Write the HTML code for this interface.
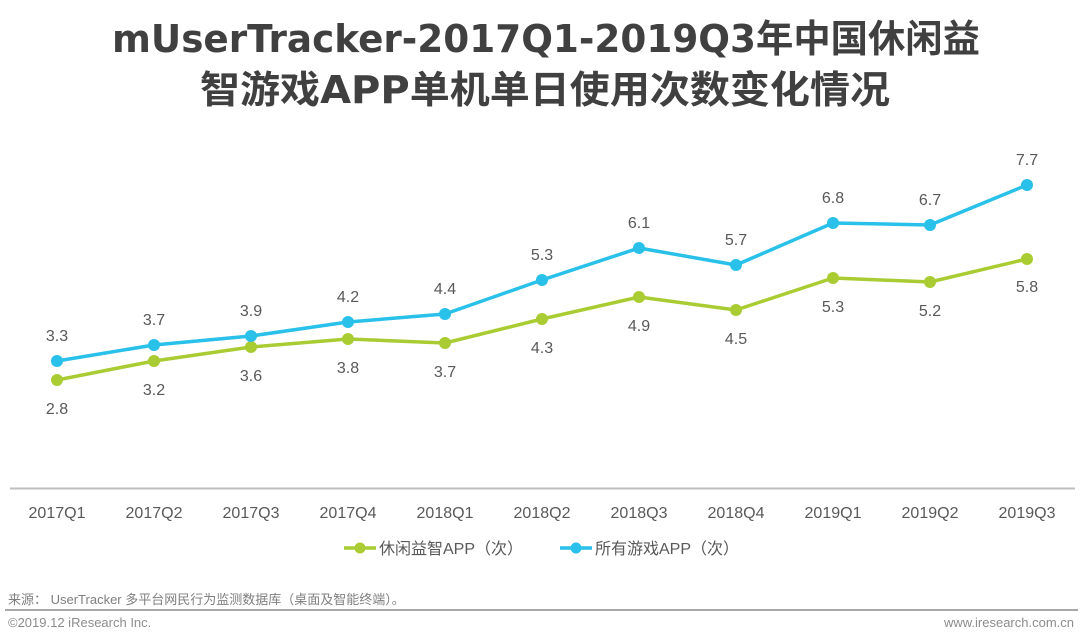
<!DOCTYPE html>
<html><head><meta charset="utf-8"><style>
html,body{margin:0;padding:0;background:#fff;}
svg{display:block;}
</style></head><body>
<svg width="1080" height="642" viewBox="0 0 1080 642" xmlns="http://www.w3.org/2000/svg" font-family="'Liberation Sans','Noto Sans CJK SC',sans-serif">
<text x="546" y="52" text-anchor="middle" font-size="38" font-weight="bold" fill="#404040" font-family="'DejaVu Sans','Noto Sans CJK SC',sans-serif" textLength="868" lengthAdjust="spacingAndGlyphs">mUserTracker-2017Q1-2019Q3年中国休闲益</text>
<text x="545" y="103" text-anchor="middle" font-size="38" font-weight="bold" fill="#404040" font-family="'DejaVu Sans','Noto Sans CJK SC',sans-serif" textLength="690" lengthAdjust="spacingAndGlyphs">智游戏APP单机单日使用次数变化情况</text>
<line x1="10" y1="488.5" x2="1075" y2="488.5" stroke="#bfbfbf" stroke-width="2"/>
<g font-size="16" fill="#595959" text-anchor="middle">
<text x="57" y="518">2017Q1</text><text x="154" y="518">2017Q2</text><text x="251" y="518">2017Q3</text><text x="348" y="518">2017Q4</text><text x="445" y="518">2018Q1</text><text x="542" y="518">2018Q2</text><text x="639" y="518">2018Q3</text><text x="736" y="518">2018Q4</text><text x="833" y="518">2019Q1</text><text x="930" y="518">2019Q2</text><text x="1027" y="518">2019Q3</text>
</g>
<polyline fill="none" stroke="#a9cc33" stroke-width="3.5" stroke-linejoin="round" points="57,380 154,361 251,347 348,339 445,343 542,319 639,297 736,310 833,278 930,282 1027,259"/>
<polyline fill="none" stroke="#29c0ea" stroke-width="3.5" stroke-linejoin="round" points="57,361 154,345 251,336 348,322 445,314 542,280 639,248 736,265 833,223 930,225 1027,185"/>
<g fill="#a9cc33"><circle cx="57" cy="380" r="6"/><circle cx="154" cy="361" r="6"/><circle cx="251" cy="347" r="6"/><circle cx="348" cy="339" r="6"/><circle cx="445" cy="343" r="6"/><circle cx="542" cy="319" r="6"/><circle cx="639" cy="297" r="6"/><circle cx="736" cy="310" r="6"/><circle cx="833" cy="278" r="6"/><circle cx="930" cy="282" r="6"/><circle cx="1027" cy="259" r="6"/></g>
<g fill="#29c0ea"><circle cx="57" cy="361" r="6"/><circle cx="154" cy="345" r="6"/><circle cx="251" cy="336" r="6"/><circle cx="348" cy="322" r="6"/><circle cx="445" cy="314" r="6"/><circle cx="542" cy="280" r="6"/><circle cx="639" cy="248" r="6"/><circle cx="736" cy="265" r="6"/><circle cx="833" cy="223" r="6"/><circle cx="930" cy="225" r="6"/><circle cx="1027" cy="185" r="6"/></g>
<g font-size="16" fill="#595959" text-anchor="middle">
<text x="57" y="341">3.3</text><text x="154" y="325">3.7</text><text x="251" y="316">3.9</text><text x="348" y="302">4.2</text><text x="445" y="294">4.4</text><text x="542" y="260">5.3</text><text x="639" y="228">6.1</text><text x="736" y="245">5.7</text><text x="833" y="203">6.8</text><text x="930" y="205">6.7</text><text x="1027" y="165">7.7</text>
<text x="57" y="414">2.8</text><text x="154" y="395">3.2</text><text x="251" y="381">3.6</text><text x="348" y="373">3.8</text><text x="445" y="377">3.7</text><text x="542" y="353">4.3</text><text x="639" y="331">4.9</text><text x="736" y="344">4.5</text><text x="833" y="312">5.3</text><text x="930" y="316">5.2</text><text x="1027" y="292">5.8</text>
</g>
<line x1="344" y1="548" x2="376" y2="548" stroke="#a9cc33" stroke-width="3.5"/><circle cx="360" cy="548" r="5.5" fill="#a9cc33"/>
<text x="379" y="554" font-size="16" fill="#595959">休闲益智APP（次）</text>
<line x1="560" y1="548" x2="592" y2="548" stroke="#29c0ea" stroke-width="3.5"/><circle cx="576" cy="548" r="5.5" fill="#29c0ea"/>
<text x="595" y="554" font-size="16" fill="#595959">所有游戏APP（次）</text>
<text x="8" y="604" font-size="13" fill="#7f7f7f">来源： UserTracker 多平台网民行为监测数据库（桌面及智能终端）。</text>
<line x1="5" y1="610" x2="1078" y2="610" stroke="#8c8c8c" stroke-width="1.5"/>
<text x="8" y="627" font-size="13" fill="#8c8c8c">©2019.12 iResearch Inc.</text>
<text x="1074" y="627" font-size="13" fill="#8c8c8c" text-anchor="end">www.iresearch.com.cn</text>
</svg>
</body></html>
